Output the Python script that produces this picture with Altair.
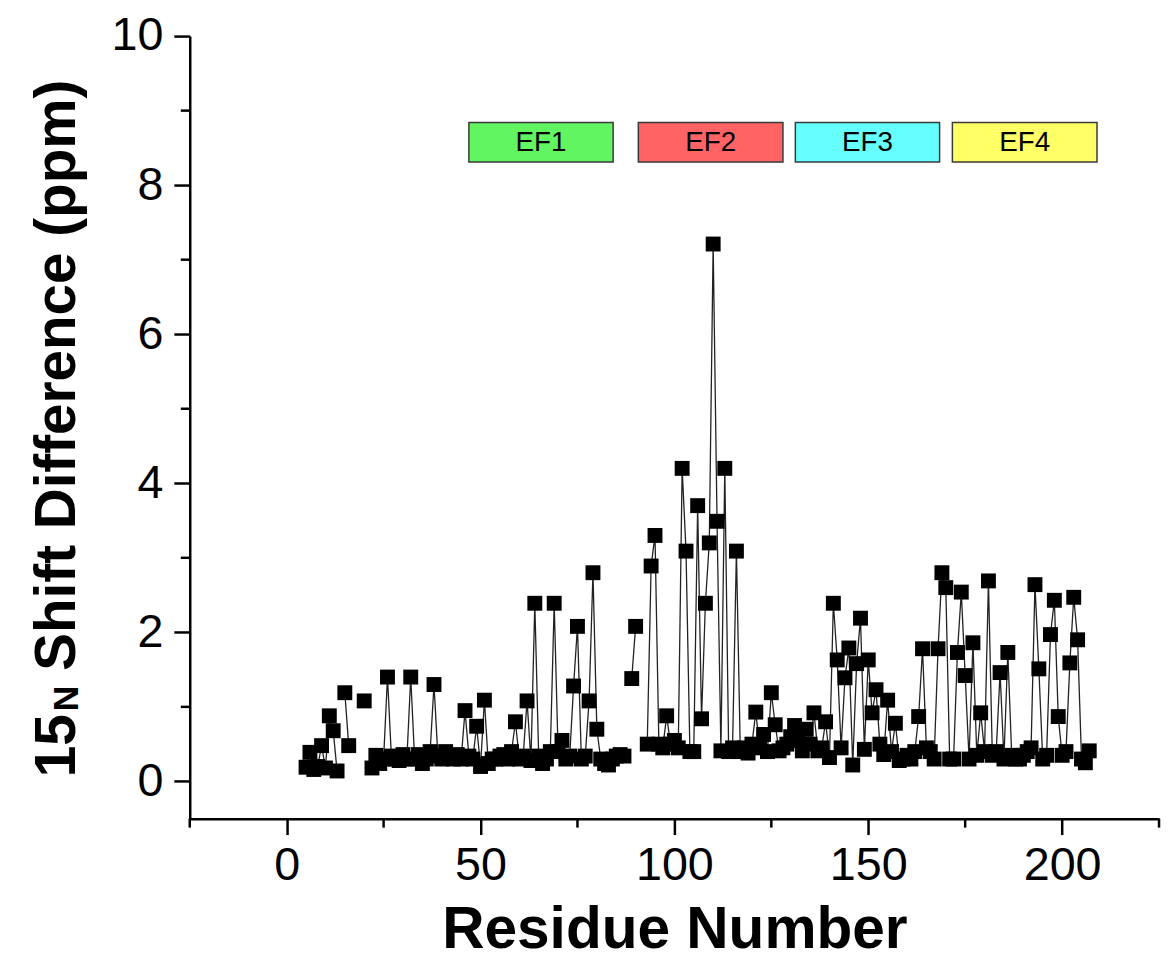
import altair as alt
import pandas as pd

# ---------------- data ----------------
residue_start = 5
shift_values = [
    0.19, 0.39, 0.16, 0.20, 0.48, 0.18, 0.88, 0.68, 0.14, None,   # 5-14
    1.19, 0.48, None, None, None, 1.08, None, 0.18, 0.35, 0.24,   # 15-24
    0.30, 1.40, 0.34, 0.30, 0.28, 0.36, 0.30, 1.40, 0.30, 0.36,   # 25-34
    0.24, 0.30, 0.40, 1.30, 0.34, 0.30, 0.40, 0.34, 0.30, 0.36,   # 35-44
    0.30, 0.95, 0.34, 0.30, 0.74, 0.20, 1.09, 0.24, 0.30, 0.30,   # 45-54
    0.34, 0.36, 0.30, 0.40, 0.80, 0.30, 0.34, 1.08, 0.28, 2.39,   # 55-64
    0.34, 0.24, 0.30, 0.40, 2.39, 0.40, 0.55, 0.30, 0.34, 1.28,   # 65-74
    2.08, 0.30, 0.34, 1.08, 2.80, 0.70, 0.30, 0.24, 0.22, 0.30,   # 75-84
    0.34, 0.36, 0.34, None, 1.38, 2.08, None, None, 0.50, 2.89,   # 85-94
    3.30, 0.50, 0.45, 0.88, 0.50, 0.55, 0.45, 4.20, 3.09, 0.40,   # 95-104
    0.40, 3.70, 0.84, 2.39, 3.20, 7.21, 3.49, 0.41, 4.20, 0.40,   # 105-114
    0.45, 3.09, 0.40, 0.45, 0.38, 0.50, 0.93, 0.45, 0.63, 0.40,   # 115-124
    1.19, 0.76, 0.41, 0.45, 0.50, 0.60, 0.75, 0.55, 0.41, 0.70,   # 125-134
    0.50, 0.92, 0.41, 0.45, 0.80, 0.32, 2.39, 1.63, 0.45, 1.39,   # 135-144
    1.79, 0.22, 1.58, 2.19, 0.43, 1.63, 0.92, 1.23, 0.50, 0.36,   # 145-154
    1.09, 0.40, 0.78, 0.28, 0.30, 0.35, 0.30, 0.40, 0.87, 1.78,   # 155-164
    0.45, 0.40, 0.30, 1.78, 2.80, 2.60, 0.30, 0.30, 1.73, 2.54,   # 165-174
    1.42, 0.30, 1.86, 0.35, 0.92, 0.40, 2.69, 0.35, 0.40, 1.46,   # 175-184
    0.30, 1.73, 0.35, 0.30, 0.30, 0.35, 0.40, 0.45, 2.64, 1.51,   # 185-194
    0.30, 0.35, 1.97, 2.43, 0.87, 0.35, 0.40, 1.59, 2.47, 1.90,   # 195-204
    0.30, 0.25, 0.41,                                             # 205-207
]
residues = list(range(residue_start, residue_start + len(shift_values)))

ef_names = ["EF1", "EF2", "EF3", "EF4"]
ef_start = [47.0, 90.7, 131.2, 171.7]
ef_end = [84.2, 128.0, 168.4, 209.0]
ef_low = [8.31, 8.31, 8.31, 8.31]
ef_high = [8.84, 8.84, 8.84, 8.84]
ef_colors = ["#62F562", "#FF6363", "#66FFFF", "#FFFF66"]

x_major = [0, 50, 100, 150, 200]
x_minor = [-25, 25, 75, 125, 175, 225]
y_major = [0, 2, 4, 6, 8, 10]
y_minor = [1, 3, 5, 7, 9]

# ---------------- tables ----------------
rows, s = [], 0
for r, v in zip(residues, shift_values):
    if v is None:
        s += 1
        continue
    rows.append({"res": r, "val": v, "seg": s})
df = pd.DataFrame(rows)

ef = pd.DataFrame({"name": ef_names, "x0": ef_start, "x1": ef_end,
                   "y0": ef_low, "y1": ef_high})
ef["xm"] = (ef["x0"] + ef["x1"]) / 2
ef["ym"] = (ef["y0"] + ef["y1"]) / 2

W, H = 976, 788
FONT = "Liberation Sans"
XD = [-25, 225]
YD = [-0.5, 10]

xs = alt.Scale(domain=XD, nice=False, zero=False)
ys = alt.Scale(domain=YD, nice=False, zero=False)

x_axis = alt.Axis(values=x_major, tickSize=16, tickWidth=2.5, domainWidth=2.5,
                  domainColor="black", tickColor="black", labelFont=FONT,
                  labelFontSize=47, labelColor="black", labelPadding=8,
                  grid=False, title="Residue Number", titleFont=FONT,
                  titleFontSize=59, titleFontWeight="bold", titleColor="black",
                  titleBaseline="alphabetic", titleY=130, labelFlush=False,
                  format="d")
y_axis = alt.Axis(values=y_major, tickSize=16, tickWidth=2.5, domainWidth=2.5,
                  domainColor="black", tickColor="black", labelFont=FONT,
                  labelFontSize=47, labelColor="black", labelPadding=11,
                  grid=False, title=None, labelFlush=False, format="d")

base = alt.Chart(df)
line = base.mark_line(color="#222222", strokeWidth=1.3).encode(
    x=alt.X("res:Q", scale=xs, axis=x_axis),
    y=alt.Y("val:Q", scale=ys, axis=y_axis),
    detail="seg:N",
)
pts = base.mark_square(size=225, color="black", opacity=1, filled=True).encode(
    x=alt.X("res:Q", scale=xs),
    y=alt.Y("val:Q", scale=ys),
)

boxes = alt.Chart(ef).mark_rect(stroke="#3a3a3a", strokeWidth=1.5).encode(
    x=alt.X("x0:Q", scale=xs), x2="x1:Q",
    y=alt.Y("y0:Q", scale=ys), y2="y1:Q",
    color=alt.Color("name:N", scale=alt.Scale(domain=ef_names, range=ef_colors),
                    legend=None),
)
box_text = alt.Chart(ef).mark_text(font=FONT, fontSize=28, color="black",
                                   baseline="middle", align="center", dy=1).encode(
    x=alt.X("xm:Q", scale=xs), y=alt.Y("ym:Q", scale=ys), text="name:N")

xminor = alt.Chart(pd.DataFrame({"t": x_minor})).mark_rule(
    color="black", strokeWidth=2.5).encode(
    x=alt.X("t:Q", scale=xs), y=alt.value(H), y2=alt.value(H + 9))
yminor = alt.Chart(pd.DataFrame({"t": y_minor})).mark_rule(
    color="black", strokeWidth=2.5).encode(
    y=alt.Y("t:Q", scale=ys), x=alt.value(0), x2=alt.value(-9))

# y-axis title pieces: "15", "N" and "Shift Difference (ppm)"
TX = -116
t_main = alt.Chart(pd.DataFrame({"t": ["Shift Difference (ppm)"]})).mark_text(
    font=FONT, fontSize=57, fontWeight="bold", angle=270, align="left",
    baseline="alphabetic", color="black").encode(
    x=alt.value(TX), y=alt.value(639), text="t:N")
t_n = alt.Chart(pd.DataFrame({"t": ["N"]})).mark_text(
    font=FONT, fontSize=36, fontWeight="bold", angle=270, align="right",
    baseline="alphabetic", color="black").encode(
    x=alt.value(TX + 3), y=alt.value(654), text="t:N")
t_15 = alt.Chart(pd.DataFrame({"t": ["15"]})).mark_text(
    font=FONT, fontSize=57, fontWeight="bold", angle=270, align="right",
    baseline="alphabetic", color="black").encode(
    x=alt.value(TX), y=alt.value(683), text="t:N")

chart = alt.layer(boxes, box_text, line, pts, xminor, yminor, t_main, t_n, t_15).properties(
    width=W, height=H,
    autosize=alt.AutoSizeParams(type="none"),
    padding={"left": 183, "top": 25, "right": 5, "bottom": 135},
    background="white",
).configure_view(stroke=None)

chart.save("out.html", embed_options={"renderer": "svg", "actions": False})
